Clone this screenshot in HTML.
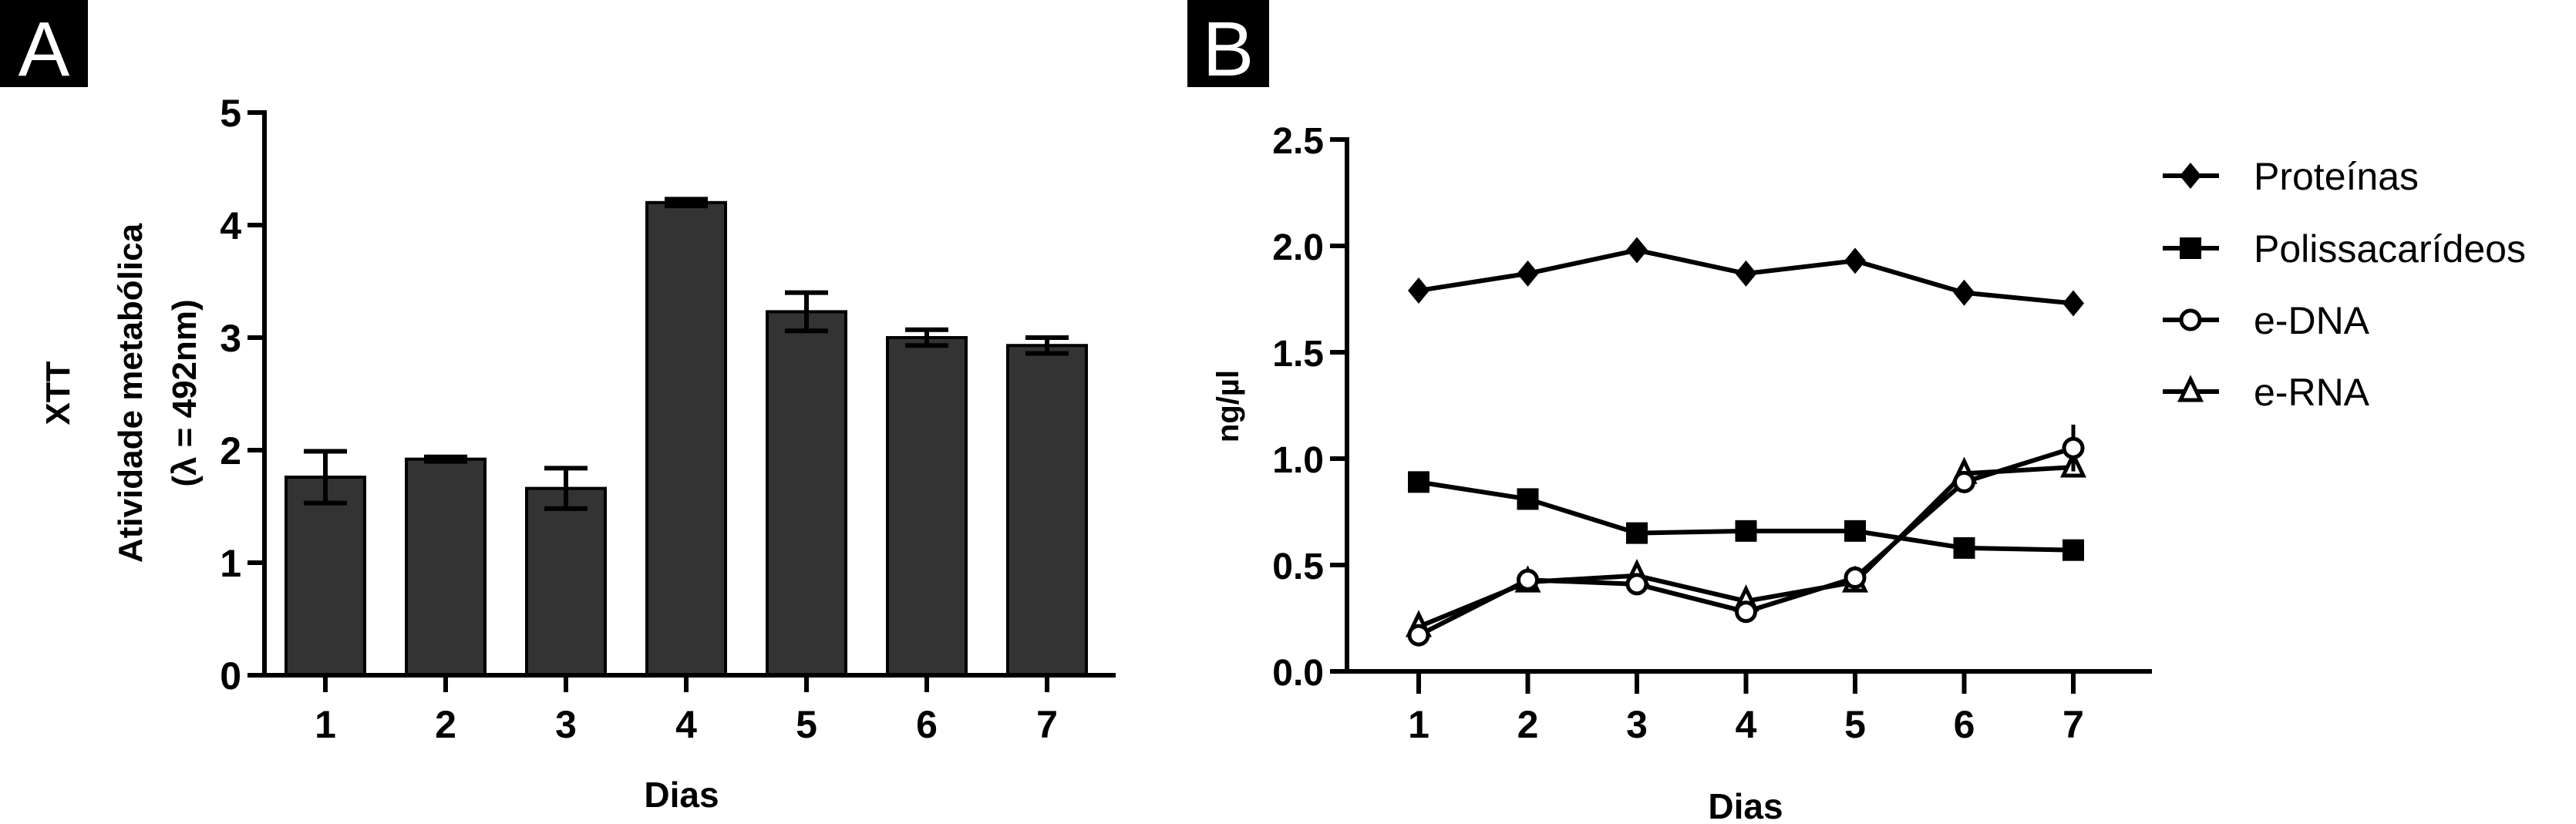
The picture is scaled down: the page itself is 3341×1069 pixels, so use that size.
<!DOCTYPE html>
<html><head><meta charset="utf-8"><style>
html,body{margin:0;padding:0;background:#fff;}
svg{display:block;font-family:"Liberation Sans",Arial,sans-serif;}
</style></head><body>
<svg id="fig" width="3341" height="1069" viewBox="0 0 3341 1069" xmlns="http://www.w3.org/2000/svg">
<g><rect x="0" y="0" width="114" height="113" fill="#000"/><text x="57" y="98" font-size="100" fill="#fff" text-anchor="middle">A</text></g>
<g><rect x="1540" y="0" width="106" height="113" fill="#000"/><text x="1593" y="98" font-size="100" fill="#fff" text-anchor="middle">B</text></g>
<g id="chartA"></g>
<g id="chartB"></g>
</svg>
<script>
const daysA = ["1","2","3","4","5","6","7"];
const xttMean = [1.76, 1.92, 1.66, 4.20, 3.23, 3.00, 2.93];
const xttErr = [0.23, 0.02, 0.18, 0.03, 0.17, 0.07, 0.07];
const ticksA = [0,1,2,3,4,5];

const daysB = ["1","2","3","4","5","6","7"];
const proteinas = [1.79, 1.87, 1.98, 1.87, 1.93, 1.78, 1.73];
const proteinasErr = [0.04, 0.01, 0.01, 0.01, 0.01, 0.01, 0.05];
const polissac = [0.89, 0.81, 0.65, 0.66, 0.66, 0.58, 0.57];
const edna = [0.17, 0.43, 0.41, 0.28, 0.44, 0.89, 1.05];
const ednaErr = [0.02, 0.01, 0.01, 0.01, 0.01, 0.02, 0.11];
const erna = [0.21, 0.42, 0.45, 0.33, 0.42, 0.93, 0.96];
const ticksB = [0.0, 0.5, 1.0, 1.5, 2.0, 2.5];
const ticksBLabels = ["0.0","0.5","1.0","1.5","2.0","2.5"];

const NS = "http://www.w3.org/2000/svg";
function mk(parent, tag, attrs, text){
  const e = document.createElementNS(NS, tag);
  for (const k in attrs) e.setAttribute(k, attrs[k]);
  if (text !== undefined) e.textContent = text;
  parent.appendChild(e);
  return e;
}

// ---------- Chart A ----------
const A = document.getElementById('chartA');
const yA = v => 876 - v * 146;
const xA = i => 422 + i * 156;
const AX0 = 343, AX1 = 1447;
daysA.forEach((d,i)=>{
  const r = mk(A,'rect',{x:xA(i)-51,y:yA(xttMean[i]),width:102,height:yA(0)-yA(xttMean[i]),fill:'#333',stroke:'#000','stroke-width':4});
  
  
  const top = yA(xttMean[i]+xttErr[i]), bot = yA(xttMean[i]-xttErr[i]);
  const eg = mk(A,'g',{stroke:'#000','stroke-width':6});
  
  
  mk(eg,'line',{x1:xA(i),x2:xA(i),y1:top,y2:bot});
  mk(eg,'line',{x1:xA(i)-28,x2:xA(i)+28,y1:top,y2:top});
  mk(eg,'line',{x1:xA(i)-28,x2:xA(i)+28,y1:bot,y2:bot});
});
const ayA = mk(A,'g',{stroke:'#000','stroke-width':6});


mk(ayA,'line',{x1:AX0,x2:AX0,y1:yA(5)-3,y2:yA(0)});
ticksA.forEach(t=>{ mk(ayA,'line',{x1:AX0-22,x2:AX0,y1:yA(t),y2:yA(t)}); });
ticksA.forEach(t=>{
  const tx = mk(A,'text',{x:313,y:yA(t)+18,'font-size':50,'font-weight':'bold','text-anchor':'end'},String(t));
  
  
});
const axA = mk(A,'g',{stroke:'#000','stroke-width':6});


mk(axA,'line',{x1:322,x2:AX1,y1:yA(0),y2:yA(0)});
daysA.forEach((d,i)=>{ mk(axA,'line',{x1:xA(i),x2:xA(i),y1:yA(0),y2:898}); });
daysA.forEach((d,i)=>{
  const tx = mk(A,'text',{x:xA(i),y:957,'font-size':50,'font-weight':'bold','text-anchor':'middle'},d);
  
  
});
let t;
t = mk(A,'text',{x:884,y:1047,'font-size':46,'font-weight':'bold','text-anchor':'middle'},'Dias');


t = mk(A,'text',{x:0,y:0,'font-size':44,'font-weight':'bold','text-anchor':'middle',transform:'translate(90,510) rotate(-90)'},'XTT');


t = mk(A,'text',{x:0,y:0,'font-size':44,'font-weight':'bold','text-anchor':'middle',transform:'translate(184,510) rotate(-90)'},'Atividade metabólica');


t = mk(A,'text',{x:0,y:0,'font-size':44,'font-weight':'bold','text-anchor':'middle',transform:'translate(254,510) rotate(-90)'},'(λ = 492nm)');



// ---------- Chart B ----------
const B = document.getElementById('chartB');
const yB = v => 871 - v * 276;
const xB = i => 1840 + i * 141.5;
const BX0 = 1747, BX1 = 2791;
const axB = mk(B,'g',{stroke:'#000','stroke-width':6});


mk(axB,'line',{x1:BX0,x2:BX1,y1:yB(0),y2:yB(0)});
daysB.forEach((d,i)=>{ mk(axB,'line',{x1:xB(i),x2:xB(i),y1:yB(0),y2:900}); });
const ayB = mk(B,'g',{stroke:'#000','stroke-width':6});


mk(ayB,'line',{x1:BX0,x2:BX0,y1:yB(2.5)-3,y2:yB(0)+3});
ticksB.forEach(v=>{ mk(ayB,'line',{x1:BX0-22,x2:BX0,y1:yB(v),y2:yB(v)}); });
ticksB.forEach((v,i)=>{
  const tx = mk(B,'text',{x:1717,y:yB(v)+18,'font-size':48,'font-weight':'bold','text-anchor':'end'},ticksBLabels[i]);
  
  
});
daysB.forEach((d,i)=>{
  const tx = mk(B,'text',{x:xB(i),y:957,'font-size':50,'font-weight':'bold','text-anchor':'middle'},d);
  
  
});
t = mk(B,'text',{x:2264,y:1062,'font-size':46,'font-weight':'bold','text-anchor':'middle'},'Dias');


t = mk(B,'text',{x:0,y:0,'font-size':40,'font-weight':'bold','text-anchor':'middle',transform:'translate(1606,527) rotate(-90)'},'ng/µl');



function marker(g, type, x, y){
  if (type==='diamond') mk(g,'polygon',{points:`${x},${y-17} ${x+14},${y} ${x},${y+17} ${x-14},${y}`,fill:'#000'});
  else if (type==='square') mk(g,'rect',{x:x-14,y:y-14,width:28,height:28,fill:'#000'});
  else if (type==='circle') mk(g,'circle',{cx:x,cy:y,r:12,fill:'#fff',stroke:'#000','stroke-width':5});
  else if (type==='triangle') mk(g,'polygon',{points:`${x},${y-16} ${x+13},${y+11} ${x-13},${y+11}`,fill:'#fff',stroke:'#000','stroke-width':5});
}
function series(name, vals, errs, type){
  const g = mk(B,'g',{});
  
  
  if (errs) vals.forEach((v,i)=>{
    mk(g,'line',{x1:xB(i),x2:xB(i),y1:yB(v+errs[i]),y2:yB(v-errs[i]),stroke:'#000','stroke-width':5});
  });
  mk(g,'polyline',{points:vals.map((v,i)=>xB(i)+','+yB(v)).join(' '),fill:'none',stroke:'#000','stroke-width':6,'stroke-linejoin':'round'});
  vals.forEach((v,i)=>marker(g,type,xB(i),yB(v)));
}
series('proteinas', proteinas, proteinasErr, 'diamond');
series('polissacarideos', polissac, null, 'square');
series('e-rna', erna, null, 'triangle');
series('e-dna', edna, ednaErr, 'circle');

const legendNames = ['Proteínas','Polissacarídeos','e-DNA','e-RNA'];
const legendTypes = ['diamond','square','circle','triangle'];
const legendY = [228, 322, 415, 508];
legendNames.forEach((n,i)=>{
  const g = mk(B,'g',{});
  
  
  mk(g,'line',{x1:2805,x2:2878,y1:legendY[i],y2:legendY[i],stroke:'#000','stroke-width':6});
  marker(g, legendTypes[i], 2841, legendY[i]);
  mk(g,'text',{x:2923,y:legendY[i]+18,'font-size':50},n);
});
</script>
</body></html>
